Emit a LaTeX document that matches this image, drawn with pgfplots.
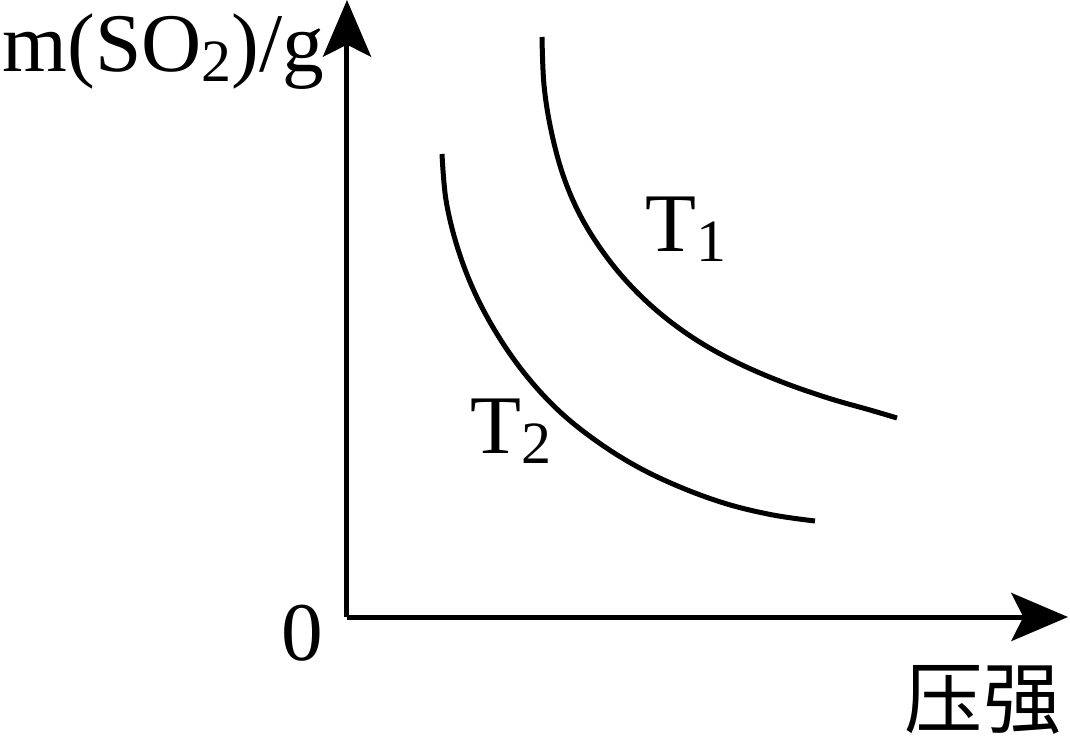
\documentclass[border=0pt]{standalone}
\usepackage{pgfplots}
\pgfplotsset{compat=1.18}
\usetikzlibrary{arrows.meta}
\usepackage{fontspec}
\setmainfont{Liberation Serif}
\newfontfamily\cjk{Noto Sans CJK SC}
\begin{document}
\begin{tikzpicture}
\path[use as bounding box] (-104.1pt,-39.9pt) rectangle (216.9pt,185.1pt);
\begin{axis}[
  anchor=origin, at={(0pt,0pt)},
  x=0.3pt, y=0.3pt,
  xmin=0, xmax=721, ymin=0, ymax=617,
  axis lines=left,
  axis line style={line width=1.5pt, -{Stealth[length=17pt,width=14.4pt,inset=3.6pt]}},
  xtick=\empty, ytick=\empty,
  clip=false,
  font=\fontsize{25}{30}\selectfont,
]
\addplot[black, line width=1.5pt, smooth, tension=0.6] coordinates {
 (195,580) (197,532) (204,487) (216,442) (233,402) (256,365) (283,332)
 (315,302) (351,276) (391,254) (435,235) (481,219) (523,207) (550,199)
};
\addplot[black, line width=1.5pt, smooth, tension=0.6] coordinates {
 (95,463) (99,417) (110,371) (127,326) (150,283) (178,243) (211,207)
 (248,177) (289,151) (333,130) (380,113) (426,102) (468,96)
};
\node[anchor=base west, inner sep=0pt] at (axis cs:-345,545)
  {m(SO\raisebox{-3pt}{\fontsize{18}{18}\selectfont 2})/g};
\node[anchor=base, inner sep=0pt] at (axis cs:-45,-43) {0};
\node[anchor=center, inner sep=0pt] at (axis cs:636,-83) {\cjk\fontsize{23.5}{28}\selectfont 压强};
\node[anchor=base west, inner sep=0pt] at (axis cs:298,365)
  {T\raisebox{-3pt}{\fontsize{18}{18}\selectfont 1}};
\node[anchor=base west, inner sep=0pt] at (axis cs:123,164)
  {T\raisebox{-3pt}{\fontsize{18}{18}\selectfont 2}};
\end{axis}
\end{tikzpicture}
\end{document}
